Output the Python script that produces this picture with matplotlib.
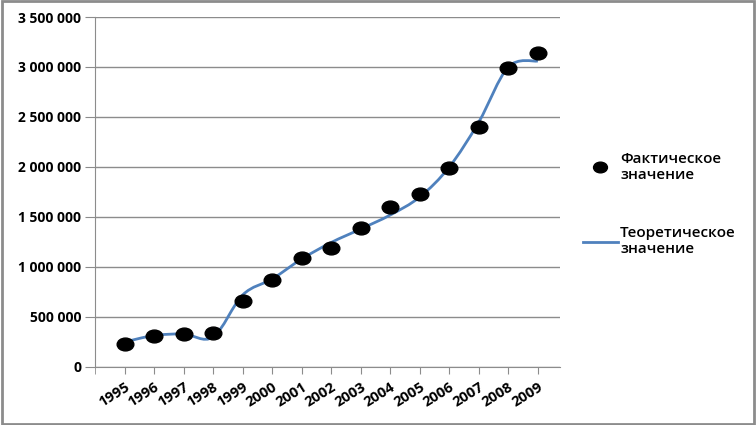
import matplotlib.pyplot as plt
import numpy as np
from matplotlib.path import Path
from matplotlib.patches import PathPatch, Rectangle
from matplotlib.lines import Line2D

years = ['1995', '1996', '1997', '1998', '1999', '2000', '2001', '2002',
         '2003', '2004', '2005', '2006', '2007', '2008', '2009']
actual = [235000, 310000, 335000, 340000, 660000, 870000, 1090000, 1190000,
          1390000, 1600000, 1735000, 1990000, 2400000, 2995000, 3140000]
theory = [250000, 315000, 330000, 300000, 720000, 880000, 1080000, 1245000,
          1380000, 1520000, 1700000, 2000000, 2450000, 3000000, 3060000]
y_ticks = [0, 500000, 1000000, 1500000, 2000000, 2500000, 3000000, 3500000]

plt.rcParams['font.family'] = ['Open Sans', 'DejaVu Sans']

fig = plt.figure(figsize=(7.56, 4.25), dpi=100)
ax = fig.add_axes([95 / 756, 58 / 425, 465 / 756, 350 / 425])

x = np.arange(len(years))


def smooth_path(xs, ys):
    # Excel-like smoothed line: cubic Bezier segments through every point
    px = np.concatenate([[xs[0]], xs, [xs[-1]]])
    py = np.concatenate([[ys[0]], ys, [ys[-1]]])
    verts = [(xs[0], ys[0])]
    codes = [Path.MOVETO]
    for i in range(1, len(px) - 2):
        c1 = (px[i] + (px[i + 1] - px[i - 1]) / 6, py[i] + (py[i + 1] - py[i - 1]) / 6)
        c2 = (px[i + 1] - (px[i + 2] - px[i]) / 6, py[i + 1] - (py[i + 2] - py[i]) / 6)
        verts += [c1, c2, (px[i + 1], py[i + 1])]
        codes += [Path.CURVE4] * 3
    return Path(verts, codes)


line_color = '#4F81BD'
ax.add_patch(PathPatch(smooth_path(x, np.array(theory, float)), fill=False,
                       edgecolor=line_color, linewidth=2, zorder=3))

circle = Path.unit_circle()
ellipse = Path(circle.vertices * np.array([1.3, 1.0]), circle.codes)
ax.plot(x, actual, linestyle='none', marker=ellipse, markersize=12,
        color='black', zorder=4)

ax.set_xlim(-1, 14.75)
ax.set_ylim(0, 3500000)
ax.set_yticks(y_ticks)
ax.set_yticklabels([f'{v:,}'.replace(',', ' ') for v in y_ticks])
ax.set_xticks(x)
ax.set_xticks([-1], minor=True)
ax.set_xticklabels(years, rotation=32, ha='right', rotation_mode='anchor')
ax.grid(axis='y', color='#8c8c8c', linewidth=1)
ax.set_axisbelow(True)

for side in ['top', 'right']:
    ax.spines[side].set_visible(False)
for side in ['left', 'bottom']:
    ax.spines[side].set_color('#8c8c8c')
ax.tick_params(axis='y', length=7, color='#8c8c8c', labelsize=10, pad=3)
ax.tick_params(axis='x', which='both', length=5, color='#8c8c8c', labelsize=10.5, pad=4)
for lab in ax.get_xticklabels() + ax.get_yticklabels():
    lab.set_fontweight('bold')

handles = [
    Line2D([], [], linestyle='none', marker=ellipse, markersize=10, color='black'),
    Line2D([], [], color=line_color, linewidth=2),
]
fig.legend(handles, ['Фактическое\nзначение', 'Теоретическое\nзначение'],
           loc='upper left', bbox_to_anchor=(569 / 756, 1 - 138 / 425),
           frameon=False, labelspacing=2.9, handlelength=2.3,
           handletextpad=0.15, prop={'weight': 'semibold', 'size': 11})

fig.patches.append(Rectangle((0.002, 0.003), 0.995, 0.994, transform=fig.transFigure,
                             fill=False, edgecolor='#8c8c8c', linewidth=2))

fig.savefig('out.png', dpi=100)
